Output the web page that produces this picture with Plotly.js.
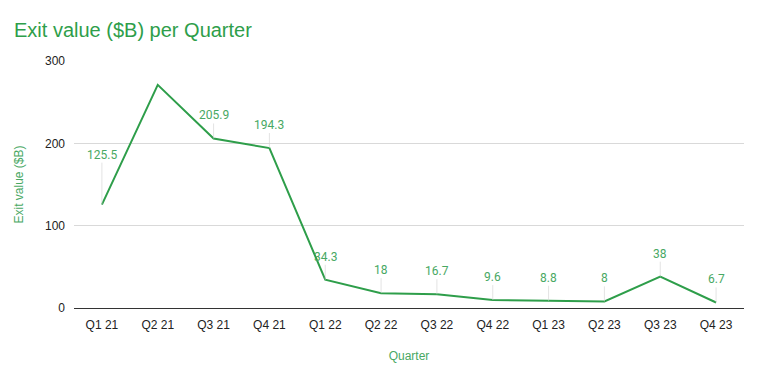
<!DOCTYPE html>
<html>
<head>
<meta charset="utf-8">
<script src="https://cdn.plot.ly/plotly-3.0.1.min.js"></script>
<style>html,body{margin:0;padding:0;background:#fff;}#chart{width:768px;height:382px;}</style>
</head>
<body>
<div id="chart"></div>
<script>
const quarters = ["Q1 21","Q2 21","Q3 21","Q4 21","Q1 22","Q2 22","Q3 22","Q4 22","Q1 23","Q2 23","Q3 23","Q4 23"];
const exitValues = [125.5, 271, 205.9, 194.3, 34.3, 18, 16.7, 9.6, 8.8, 8, 38, 6.7];
const labelText = ["125.5", "", "205.9", "194.3", "34.3", "18", "16.7", "9.6", "8.8", "8", "38", "6.7"];
const labelOffsets = [-42, 0, -15, -15, -15, -15, -15, -15, -15, -15, -15, -15];
const yTicks = [0, 100, 200, 300];

const green = "#2e9e4a";
const annotations = [];
quarters.forEach((q, i) => {
  if (!labelText[i]) return;
  annotations.push({
    x: i, y: exitValues[i], xref: "x", yref: "y",
    text: labelText[i], showarrow: true, arrowhead: 0, arrowwidth: 1,
    arrowcolor: "rgba(210,210,210,0.6)", ax: 0, ay: labelOffsets[i],
    standoff: 0, yanchor: "bottom", borderpad: 0,
    font: {family: "Roboto, Arial, sans-serif", size: 12, color: "#48a863"}
  });
});

Plotly.newPlot("chart", [{
  x: quarters, y: exitValues, type: "scatter", mode: "lines",
  line: {color: green, width: 2}, hoverinfo: "x+y"
}], {
  width: 768, height: 382,
  paper_bgcolor: "#fff", plot_bgcolor: "#fff",
  margin: {l: 74, r: 24, t: 61, b: 74},
  title: {text: "Exit value ($B) per Quarter", x: 14/768, xanchor: "left", y: 1 - 30/382, yanchor: "middle",
    font: {family: "Arial, sans-serif", size: 20, color: green}},
  xaxis: {
    type: "category", range: [-0.5, 11.5], showgrid: false, zeroline: false, showline: false,
    ticks: "", ticklabelstandoff: 8, tickfont: {family: "Arial, sans-serif", size: 12, color: "#222"},
    title: {text: "Quarter", standoff: 20, font: {family: "Arial, sans-serif", size: 12, color: "#48a863"}}
  },
  yaxis: {
    range: [0, 300], tickvals: yTicks, ticktext: yTicks.map(String),
    showgrid: true, gridcolor: "#d9d9d9", zeroline: true, zerolinecolor: "#333", zerolinewidth: 1,
    ticks: "", ticklabelstandoff: 8,
    tickfont: {family: "Arial, sans-serif", size: 12, color: "#222"},
    title: {text: "Exit value ($B)", standoff: 18, font: {family: "Arial, sans-serif", size: 12, color: "#48a863"}}
  },
  annotations: annotations,
  showlegend: false
}, {displayModeBar: false, staticPlot: true});
</script>
</body>
</html>
